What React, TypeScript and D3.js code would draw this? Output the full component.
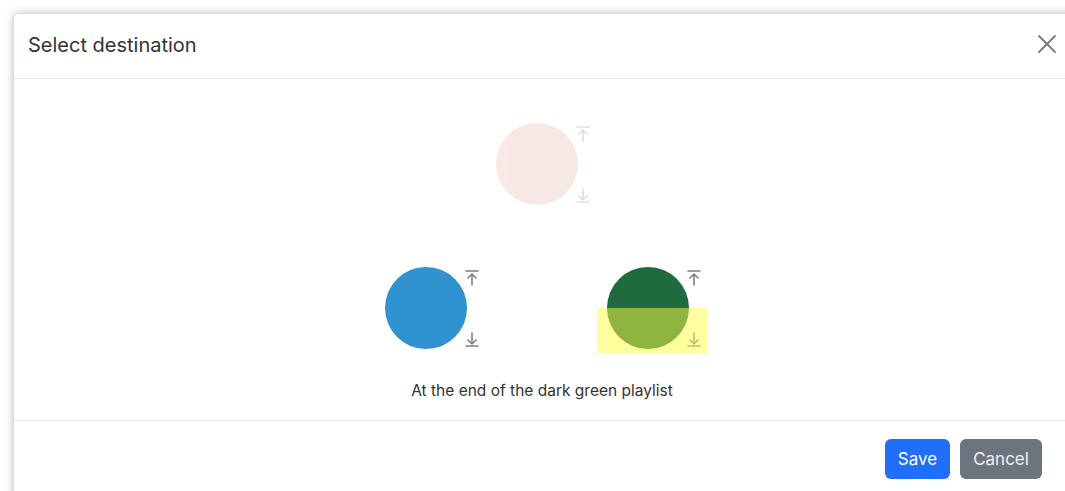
import React, { useEffect, useRef } from "react";
import * as d3 from "d3";

const settings = {
  width: 1065,
  height: 491,
  modal: { x: 14, y: 14 },
  headerLine: 78,
  footerLine: 420,
  tree: { x: 537, y: 164, dx: 222, dy: 144 },
  radius: 41,
};

// playlists shown as a small tree: current one on top, candidates below
const playlistIds: string[] = ["current", "blue", "darkgreen"];
const playlistParents: (string | null)[] = [null, "current", "current"];
const playlistColors: string[] = ["#e3a79f", "#3192d0", "#1f6b3f"];
const playlistFaded: boolean[] = [true, false, false];

const title = "Select destination";
const caption = "At the end of the dark green playlist";
const buttonLabels: string[] = ["Save", "Cancel"];
const buttonColors: string[] = ["#1f6ff8", "#6c757d"];

const target = { id: "darkgreen", position: "end" };

const FONT = "Inter, 'Noto Sans', 'Liberation Sans', sans-serif";

export default function App() {
  const svgRef = useRef<SVGSVGElement>(null);

  useEffect(() => {
    const svg = d3.select(svgRef.current);
    svg.selectAll("*").remove();

    const defs = svg.append("defs");
    const filter = defs.append("filter").attr("id", "shadow")
      .attr("x", "-5%").attr("y", "-5%").attr("width", "110%").attr("height", "110%");
    filter.append("feDropShadow")
      .attr("dx", 0).attr("dy", 0).attr("stdDeviation", 5)
      .attr("flood-color", "#000").attr("flood-opacity", 0.3);

    svg.append("rect").attr("width", settings.width).attr("height", settings.height).attr("fill", "#fff");

    // modal box
    svg.append("rect")
      .attr("x", settings.modal.x).attr("y", settings.modal.y)
      .attr("width", 1100).attr("height", 520).attr("rx", 5)
      .attr("fill", "#fff").attr("filter", "url(#shadow)");

    svg.append("text")
      .attr("x", 28).attr("y", 52)
      .attr("font-family", FONT).attr("font-size", 20).attr("font-weight", 400)
      .attr("fill", "#333").text(title);

    // close button
    const close = svg.append("g").attr("transform", "translate(1047,44)")
      .attr("stroke", "#7a7a7a").attr("stroke-width", 1.8).attr("stroke-linecap", "round");
    close.append("line").attr("x1", -8).attr("y1", -8).attr("x2", 8).attr("y2", 8);
    close.append("line").attr("x1", 8).attr("y1", -8).attr("x2", -8).attr("y2", 8);

    [settings.headerLine, settings.footerLine].forEach((y) => {
      svg.append("line").attr("x1", settings.modal.x).attr("x2", settings.width)
        .attr("y1", y + 0.5).attr("y2", y + 0.5).attr("stroke", "#e6e6e6");
    });

    // tree of playlists
    const table = playlistIds.map((id, i) => ({
      id, parent: playlistParents[i], color: playlistColors[i], faded: playlistFaded[i],
    }));
    const root = d3.stratify<(typeof table)[number]>()
      .id((d) => d.id).parentId((d) => d.parent)(table);
    d3.tree<(typeof table)[number]>().nodeSize([settings.tree.dx, settings.tree.dy])(root);

    const r = settings.radius;
    const g = svg.append("g").attr("transform", `translate(${settings.tree.x},${settings.tree.y})`);

    const nodes = g.selectAll("g.node").data(root.descendants()).join("g")
      .attr("class", "node")
      .attr("transform", (d: any) => `translate(${d.x},${d.y})`)
      .attr("opacity", (d) => (d.data.faded ? 0.25 : 1));

    nodes.append("circle").attr("r", r).attr("fill", (d) => d.data.color);

    const icons = nodes.append("g").attr("fill", "none")
      .attr("stroke", "#7f7f7f")
      .attr("stroke-width", 1.6).attr("stroke-linecap", "round").attr("stroke-linejoin", "round");

    // arrow to top
    icons.append("path").attr("d", `M${r - 1},${-37} h12 M${r + 5},${-34} v11 M${r + 1},${-30} l4,-4 l4,4`);
    // arrow to bottom
    icons.append("path").attr("d", `M${r - 1},${38} h12 M${r + 5},${25} v11 M${r + 1},${32} l4,4 l4,-4`);

    // highlighted drop target
    const t = root.descendants().find((d) => d.id === target.id) as any;
    if (t) {
      g.append("rect")
        .attr("x", t.x - 51).attr("y", target.position === "end" ? t.y : t.y - 45)
        .attr("width", 110).attr("height", 45)
        .attr("fill", "#ffff40").attr("opacity", 0.5);
    }

    svg.append("text")
      .attr("x", 542).attr("y", 396).attr("text-anchor", "middle")
      .attr("font-family", FONT).attr("font-size", 15.5).attr("fill", "#333")
      .text(caption);

    // footer buttons
    const widths = [65, 82];
    let bx = 885;
    buttonLabels.forEach((label, i) => {
      svg.append("rect").attr("x", bx).attr("y", 439).attr("width", widths[i]).attr("height", 40)
        .attr("rx", 6).attr("fill", buttonColors[i]);
      svg.append("text").attr("x", bx + widths[i] / 2).attr("y", 465)
        .attr("text-anchor", "middle").attr("font-family", FONT).attr("font-size", 17)
        .attr("fill", i === 0 ? "#fff" : "#f1f1f1").text(label);
      bx += widths[i] + 10;
    });
  }, []);

  return (
    <svg
      ref={svgRef}
      width={settings.width}
      height={settings.height}
      style={{ position: "absolute", left: 0, top: 0, display: "block" }}
    ></svg>
  );
}
